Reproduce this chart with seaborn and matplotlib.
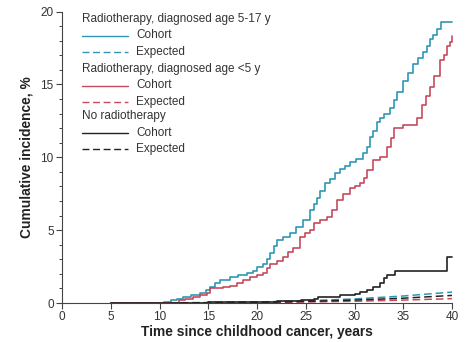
import matplotlib
matplotlib.use("Agg")
import matplotlib.pyplot as plt
from matplotlib.lines import Line2D
from matplotlib.ticker import MultipleLocator
import numpy as np
import pandas as pd
import seaborn as sns

# Cumulative incidence (%) step curves by years since childhood cancer
rt_old_cohort_x = [5, 10.5, 11.2, 11.8, 12.4, 13.2, 14.2, 14.8, 15.2, 15.7, 16.2, 17.2, 18.0,
                   19.0, 19.6, 20.0, 20.6, 21.0, 21.3, 21.7, 22.0, 22.7, 23.4, 24.0, 24.7,
                   25.4, 25.8, 26.2, 26.5, 27.0, 27.5, 28.0, 28.5, 29.0, 29.5, 30.2, 30.9,
                   31.3, 31.6, 31.9, 32.3, 32.6, 33.0, 33.6, 34.0, 34.4, 35.0, 35.5, 36.0,
                   36.5, 37.0, 37.4, 37.7, 38.1, 38.5, 38.9, 40.0]
rt_old_cohort_y = [0.0, 0.1, 0.2, 0.3, 0.4, 0.55, 0.7, 0.9, 1.1, 1.35, 1.6, 1.8, 1.9,
                   2.05, 2.2, 2.5, 2.7, 3.0, 3.4, 3.9, 4.3, 4.5, 4.8, 5.2, 5.7,
                   6.4, 6.8, 7.2, 7.7, 8.2, 8.5, 8.9, 9.2, 9.4, 9.7, 9.85, 10.3,
                   10.7, 11.4, 11.8, 12.4, 12.7, 13.0, 13.4, 13.9, 14.5, 15.2, 15.8, 16.4,
                   16.8, 17.2, 17.6, 18.1, 18.4, 18.8, 19.3, 19.3]

rt_young_cohort_x = [5, 12.0, 12.6, 13.4, 14.2, 14.9, 15.2, 16.0, 16.5, 17.2, 17.9, 18.6,
                     19.3, 20.0, 20.6, 21.0, 21.3, 22.0, 22.7, 23.2, 23.7, 24.4, 24.9, 25.4,
                     25.8, 26.5, 27.2, 27.7, 28.2, 28.8, 29.5, 30.0, 30.6, 31.0, 31.3, 31.9,
                     32.6, 33.3, 33.7, 34.0, 35.0, 36.4, 36.9, 37.3, 37.7, 38.2, 38.8, 39.2,
                     39.5, 39.8, 40.0]
rt_young_cohort_y = [0.0, 0.2, 0.3, 0.4, 0.55, 0.7, 1.0, 1.05, 1.1, 1.2, 1.35, 1.55,
                     1.8, 1.95, 2.05, 2.4, 2.7, 2.9, 3.15, 3.5, 3.8, 4.5, 4.8, 5.0,
                     5.5, 5.7, 5.9, 6.4, 7.05, 7.5, 7.9, 8.0, 8.2, 8.6, 9.1, 9.8,
                     10.0, 10.7, 11.3, 12.0, 12.2, 12.7, 13.6, 14.2, 14.8, 15.6, 16.7, 17.0,
                     17.6, 17.9, 18.3]

no_rt_cohort_x = [5, 10.5, 15.0, 19.0, 22.0, 24.5, 25.8, 26.3, 28.5, 30.0, 30.6, 31.3,
                  31.9, 32.6, 33.0, 33.3, 34.2, 39.5, 40.0]
no_rt_cohort_y = [0.0, 0.03, 0.06, 0.1, 0.14, 0.18, 0.3, 0.4, 0.55, 0.65, 0.75, 0.9,
                  1.1, 1.35, 1.7, 1.9, 2.2, 3.15, 3.15]

# Expected incidence from population rates
expected_x = [5, 10, 15, 20, 25, 30, 35, 40]
rt_old_expected_y = [0.0, 0.01, 0.03, 0.07, 0.15, 0.28, 0.48, 0.75]
rt_young_expected_y = [0.0, 0.0, 0.01, 0.03, 0.07, 0.12, 0.2, 0.3]
no_rt_expected_y = [0.0, 0.01, 0.02, 0.05, 0.11, 0.2, 0.33, 0.52]

x_ticks = [0, 5, 10, 15, 20, 25, 30, 35, 40]
y_ticks = [0, 5, 10, 15, 20]

group_titles = ["Radiotherapy, diagnosed age 5-17 y",
                "Radiotherapy, diagnosed age <5 y",
                "No radiotherapy"]
kind_labels = ["Cohort", "Expected"]

BLUE = "#2f97b5"
RED = "#c64a5c"
BLACK = "#222222"
colors = [BLUE, RED, BLACK]

sns.set_theme(style="ticks")
plt.rcParams["font.family"] = ["Liberation Sans", "DejaVu Sans"]

fig = plt.figure(figsize=(4.66, 3.42), dpi=100)
ax = fig.add_axes([62 / 466, 39 / 342, 390 / 466, 291.5 / 342])

cohorts = [(rt_old_cohort_x, rt_old_cohort_y),
           (rt_young_cohort_x, rt_young_cohort_y),
           (no_rt_cohort_x, no_rt_cohort_y)]
expecteds = [rt_old_expected_y, rt_young_expected_y, no_rt_expected_y]

dash = (5, 2.6)
for (cx, cy), ey, col in zip(cohorts, expecteds, colors):
    df_e = pd.DataFrame({"t": expected_x, "ci": ey})
    sns.lineplot(data=df_e, x="t", y="ci", ax=ax, color=col, lw=1.1,
                 dashes=False, linestyle=(0, dash), clip_on=False)
for (cx, cy), col in zip(cohorts, colors):
    df_c = pd.DataFrame({"t": cx, "ci": cy})
    sns.lineplot(data=df_c, x="t", y="ci", ax=ax, color=col, lw=1.2,
                 drawstyle="steps-post", clip_on=False)

ax.set_xlim(0, 40)
ax.set_ylim(0, 20)
ax.set_xticks(x_ticks)
ax.set_yticks(y_ticks)
ax.yaxis.set_minor_locator(MultipleLocator(1))
sns.despine(ax=ax)
for s in ["left", "bottom"]:
    ax.spines[s].set_linewidth(0.8)
    ax.spines[s].set_color("#444444")
ax.tick_params(axis="both", which="major", length=4, width=0.8, color="#444444",
               labelsize=8.5, labelcolor="#333333", pad=2)
ax.tick_params(axis="y", which="minor", length=2.5, width=0.7, color="#444444")
ax.set_xlabel("Time since childhood cancer, years", fontsize=9.9, fontweight="bold",
              color="#222222", labelpad=1)
ax.set_ylabel("Cumulative incidence, %", fontsize=9.9, fontweight="bold",
              color="#222222", labelpad=5)

# Legend block: a title per group, then cohort / expected samples
fs = 8.5
ty = [19, 69, 116]
for g, (title, col) in enumerate(zip(group_titles, colors)):
    y0 = ty[g]
    fig.text(82 / 466, 1 - y0 / 342, title, fontsize=fs, color="#333333",
             va="center", ha="left")
    for k, lab in enumerate(kind_labels):
        yy = 1 - (y0 + 16.5 * (k + 1)) / 342
        ls = "-" if k == 0 else (0, dash)
        fig.add_artist(Line2D([82 / 466, 128 / 466], [yy, yy], color=col, lw=1.0,
                              linestyle=ls, transform=fig.transFigure))
        fig.text(136 / 466, yy, lab, fontsize=fs, color="#333333",
                 va="center", ha="left")

fig.savefig("out.png", dpi=100)
